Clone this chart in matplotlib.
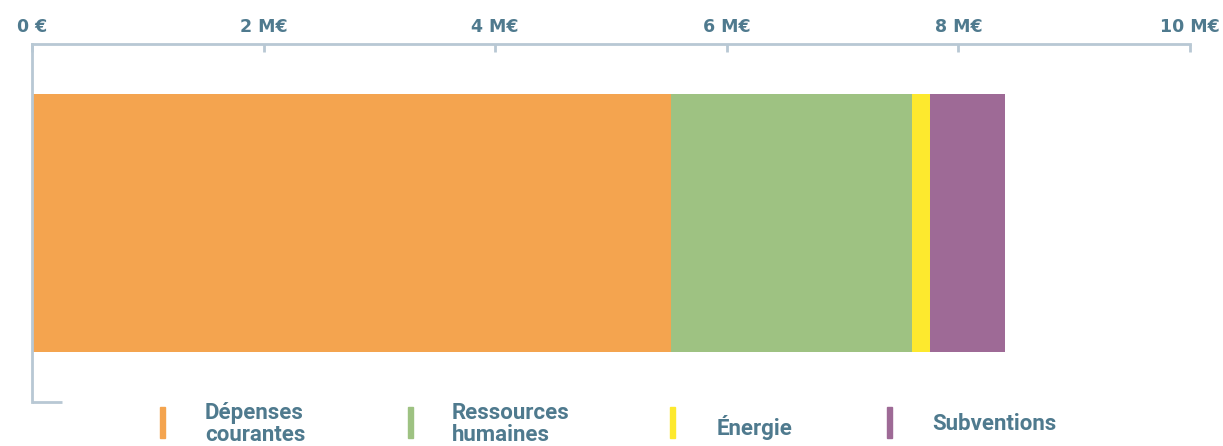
import matplotlib.pyplot as plt
from matplotlib.patches import Rectangle

# budget par poste (M€)
categories = ['Dépenses\ncourantes', 'Ressources\nhumaines', 'Énergie', 'Subventions']
values = [5.52, 2.08, 0.155, 0.65]
colors = ['#F4A44F', '#9EC282', '#FDE92E', '#9E6A96']
tick_values = [0, 2, 4, 6, 8, 10]
tick_labels = ['0 €', '2 M€', '4 M€', '6 M€', '8 M€', '10 M€']

text_color = '#4F7A8E'
axis_color = '#B8C8D4'

fig = plt.figure(figsize=(12.23, 4.46), dpi=100)
ax = fig.add_axes([32 / 1223, 44 / 446, 1158 / 1223, 358 / 446])

left = 0
for v, c in zip(values, colors):
    ax.barh(0.5, v, left=left, height=0.72, color=c)
    left += v

ax.set_xlim(0, 10)
ax.set_ylim(0, 1)
ax.set_yticks([])
for s in ['right', 'bottom']:
    ax.spines[s].set_visible(False)
for s in ['top', 'left']:
    ax.spines[s].set_color(axis_color)
    ax.spines[s].set_linewidth(2)
# petit trait en bas de l'axe gauche
ax.plot([0, 30 / 1158], [0, 0], transform=ax.transAxes, color=axis_color,
        lw=2, clip_on=False, solid_capstyle='butt')

ax.xaxis.tick_top()
ax.set_xticks(tick_values)
ax.set_xticklabels(tick_labels)
ax.tick_params(axis='x', direction='in', length=6, width=2, color=axis_color,
               pad=6, labelsize=12.5, labelcolor=text_color)
for lab in ax.get_xticklabels():
    lab.set_fontweight('bold')
    lab.set_family('DejaVu Sans')
ax.get_xticklines()[0].set_visible(False)

# légende
marker_x = [160, 408, 670, 887]
text_x = [205, 452, 717, 932]
text_y = [424, 424, 427, 424]
for cat, c, mx, tx, ty in zip(categories, colors, marker_x, text_x, text_y):
    fig.patches.append(Rectangle((mx / 1223, (446 - 438) / 446), 5 / 1223, 31 / 446,
                                 transform=fig.transFigure, color=c))
    fig.text(tx / 1223, (446 - ty) / 446, cat, ha='left', va='center',
             fontsize=16, fontweight='bold', family='Roboto', color=text_color,
             linespacing=0.95)

fig.savefig('out.png', dpi=100)
